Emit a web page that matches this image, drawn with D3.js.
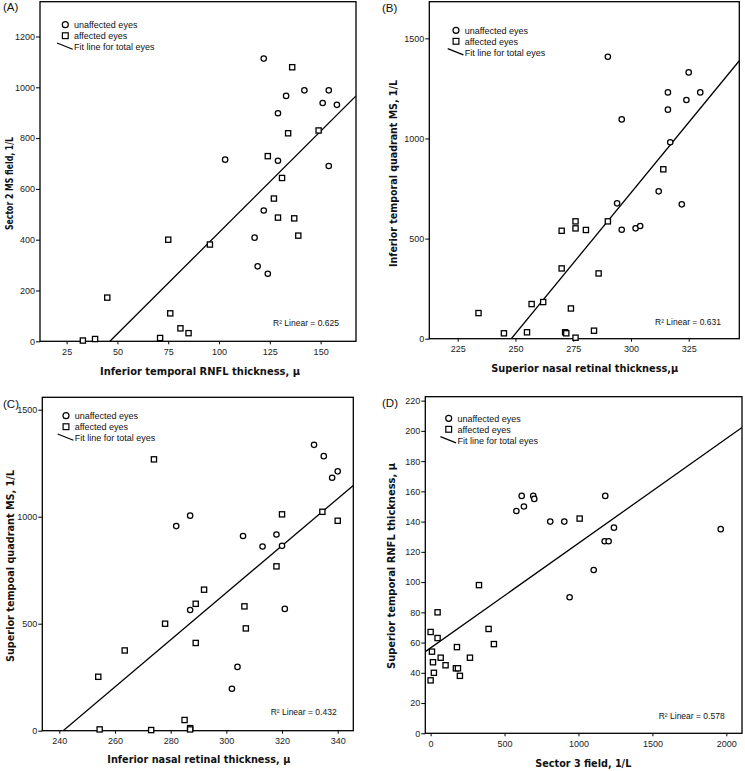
<!DOCTYPE html>
<html><head><meta charset="utf-8">
<script src="https://cdn.jsdelivr.net/npm/d3@7"></script>
<style>
html,body{margin:0;padding:0;background:#fff;}
svg{display:block;}
.tick text{font-family:"Liberation Sans",Arial,sans-serif;font-size:9px;fill:#222;}
.tick line{stroke:#000;stroke-width:1;}
.domain{display:none;}
</style></head>
<body>
<svg id="chart" width="745" height="771"></svg>
<script>
// ---------- DATA ----------
// Panel A
const aUnaffected = [[122,1113],[142,988],[154,988],[133,966],[151,938],[158,931],[129,898],[103,715],[129,711],[154,690],[122,515],[117.5,408],[119,295],[124,266]];
const aAffected = [[136,1079],[149,830],[134,819],[124,729],[131,643],[127,562],[129,487],[137,484],[139,416],[75,400],[95.5,381],[45,172],[76,110],[81,51],[85,32],[71,13],[39,9],[33,3]];
const aFit = [[46.3,0],[167.4,966]];
const aXTicks = [25,50,75,100,125,150];
const aYTicks = [0,200,400,600,800,1000,1200];
// Panel B
const bUnaffected = [[290,1408],[325,1330],[316,1230],[330,1230],[324,1192],[316,1144],[296,1095],[317,981],[312,736],[322,671],[294,676],[296,544],[302,551],[304,563]];
const bAffected = [[314,846],[290,586],[276,586],[276,551],[280.5,543],[270,539],[270,351],[286,326],[257,173],[262,183],[274,151],[234,128],[245,27],[255,32],[271.5,32],[272,27],[284,40],[276,5]];
const bFit = [[248.2,0],[346.9,1388]];
const bXTicks = [225,250,275,300,325];
const bYTicks = [0,500,1000,1500];
// Panel C
const cUnaffected = [[331.5,1336],[335,1283],[340,1212],[338,1182],[287,1005],[282,956],[306,910],[318,917],[313,861],[320,864],[287,564],[321,569],[304,298],[302,196]];
const cAffected = [[274,1268],[334.5,1023],[320,1011],[340,981],[318,768],[292,659],[289,593],[306.5,581],[278,500],[307,478],[289,410],[263.5,375],[254,252],[285,50],[287,12],[287,6],[254.5,6],[273,3]];
const cFit = [[241.4,0],[345.6,1146]];
const cXTicks = [240,260,280,300,320,340];
const cYTicks = [0,500,1000,1500];
// Panel D
const dUnaffected = [[616,157],[694,157],[701,155],[631,150],[580,147],[1181,157],[809,140],[904,140],[1240,136],[1962,135],[1177,127],[1204,127],[1103,108],[940,90]];
const dAffected = [[1008,142],[327,98],[47,80],[392,69],[0,67],[47,63],[428,59],[178,57],[9,54],[68,50],[266,50],[16,47],[101,45],[171,43],[185,43],[22,40],[198,38],[0,35]];
const dFit = [[-36,54],[2106,202.2]];
const dXTicks = [0,500,1000,1500,2000];
const dYTicks = [0,20,40,60,80,100,120,140,160,180,200,220];

const legendLabels = ["unaffected eyes","affected eyes","Fit line for total eyes"];

const panels = [
  {tag:"(A)", unaff:aUnaffected, aff:aAffected, fit:aFit, xt:aXTicks, yt:aYTicks,
   r2:"R\u00B2 Linear = 0.625", xTitle:"Inferior temporal RNFL thickness, \u03BC", yTitle:"Sector 2 MS field, 1/L",
   box:[40,1.7,356,341.3], xd:[11.9,167.4], yd:[0,1337],
   tagPos:[3,11], leg:[65.3,24.7], r2Pos:[273,326],
   xT:{x:100,y:375,len:200}, yT:{x:12.5,y:183.5,len:93}},
  {tag:"(B)", unaff:bUnaffected, aff:bAffected, fit:bFit, xt:bXTicks, yt:bYTicks,
   r2:"R\u00B2 Linear = 0.631", xTitle:"Superior nasal retinal thickness,\u03BC", yTitle:"Inferior temporal quadrant MS, 1/L",
   box:[429.3,1.7,739.3,338.7], xd:[212.7,346.9], yd:[0,1683],
   tagPos:[382,11.7], leg:[456,30.3], r2Pos:[655,324.5],
   xT:{x:491.3,y:371.7,len:187}, yT:{x:397,y:173.5,len:187}},
  {tag:"(C)", unaff:cUnaffected, aff:cAffected, fit:cFit, xt:cXTicks, yt:cYTicks,
   r2:"R\u00B2 Linear = 0.432", xTitle:"Inferior nasal retinal thickness, \u03BC", yTitle:"Superior tempoal quadrant MS, 1/L",
   box:[42.3,397.3,353.3,730.7], xd:[233.9,345.6], yd:[0,1558],
   tagPos:[3,408], leg:[66,415.7], r2Pos:[270.7,714.5],
   xT:{x:107.3,y:762.7,len:183}, yT:{x:14,y:566,len:192}},
  {tag:"(D)", unaff:dUnaffected, aff:dAffected, fit:dFit, xt:dXTicks, yt:dYTicks,
   r2:"R\u00B2 Linear = 0.578", xTitle:"Sector 3 field, 1/L", yTitle:"Superior temporal RNFL thickness, \u03BC",
   box:[425.3,396.7,742,733.3], xd:[-36,2106], yd:[0,222.6],
   tagPos:[382,407], leg:[448.7,418.3], r2Pos:[658.7,718.5],
   xT:{x:535.3,y:767,len:96}, yT:{x:395,y:566,len:206}}
];

const svg = d3.select("#chart");
const sans = '"Liberation Sans",Arial,sans-serif';
const bold = '"DejaVu Sans",Verdana,sans-serif';

panels.forEach((p,i)=>{
  const [x0,y0,x1,y1] = p.box;
  const x = d3.scaleLinear().domain(p.xd).range([x0,x1]);
  const y = d3.scaleLinear().domain(p.yd).range([y1,y0]);
  const g = svg.append("g");

  const cid = "clip"+i;
  svg.append("clipPath").attr("id",cid).append("rect")
    .attr("x",x0).attr("y",y0).attr("width",x1-x0).attr("height",y1-y0);

  g.append("g").attr("transform",`translate(${x0},0)`)
    .call(d3.axisLeft(y).tickValues(p.yt).tickSize(4).tickPadding(1).tickFormat(d3.format("d")));
  g.append("g").attr("transform",`translate(0,${y1})`)
    .call(d3.axisBottom(x).tickValues(p.xt).tickSize(3).tickPadding(4).tickFormat(d3.format("d")));

  g.append("rect").attr("x",x0).attr("y",y0).attr("width",x1-x0).attr("height",y1-y0)
    .attr("fill","none").attr("stroke","#000").attr("stroke-width",1.3);

  g.append("line").attr("clip-path",`url(#${cid})`)
    .attr("x1",x(p.fit[0][0])).attr("y1",y(p.fit[0][1]))
    .attr("x2",x(p.fit[1][0])).attr("y2",y(p.fit[1][1]))
    .attr("stroke","#000").attr("stroke-width",1.3);

  g.selectAll("circle.u").data(p.unaff).join("circle").attr("class","u")
    .attr("cx",d=>x(d[0])).attr("cy",d=>y(d[1])).attr("r",2.7)
    .attr("fill","#fff").attr("stroke","#000").attr("stroke-width",1.25);
  g.selectAll("rect.a").data(p.aff).join("rect").attr("class","a")
    .attr("x",d=>x(d[0])-2.6).attr("y",d=>y(d[1])-2.6).attr("width",5.2).attr("height",5.2)
    .attr("fill","#fff").attr("stroke","#000").attr("stroke-width",1.3);

  const [lx,ly] = p.leg;
  g.append("circle").attr("cx",lx).attr("cy",ly).attr("r",3).attr("fill","none").attr("stroke","#000").attr("stroke-width",1.2);
  g.append("rect").attr("x",lx-2.9).attr("y",ly+11-2.9).attr("width",5.8).attr("height",5.8).attr("fill","none").attr("stroke","#000").attr("stroke-width",1.2);
  g.append("line").attr("x1",lx-8.3).attr("y1",ly+18.3).attr("x2",lx+7.4).attr("y2",ly+24.6).attr("stroke","#000").attr("stroke-width",1.2);
  legendLabels.forEach((t,k)=>{
    g.append("text").attr("x",lx+8.7).attr("y",ly+3.3+k*11).text(t)
      .attr("font-family",sans).attr("font-size",9).attr("fill","#111");
  });

  g.append("text").attr("x",p.r2Pos[0]).attr("y",p.r2Pos[1]).text(p.r2)
    .attr("font-family",sans).attr("font-size",8.5).attr("fill","#111");

  g.append("text").attr("x",p.tagPos[0]).attr("y",p.tagPos[1]).text(p.tag)
    .attr("font-family",sans).attr("font-size",11.5).attr("fill","#111");

  g.append("text").attr("x",p.xT.x).attr("y",p.xT.y).text(p.xTitle)
    .attr("font-family",bold).attr("font-weight","bold").attr("font-size",11)
    .attr("textLength",p.xT.len).attr("lengthAdjust","spacingAndGlyphs").attr("fill","#111");
  g.append("text").attr("transform",`translate(${p.yT.x},${p.yT.y}) rotate(-90)`)
    .attr("text-anchor","middle").text(p.yTitle)
    .attr("font-family",bold).attr("font-weight","bold").attr("font-size",11)
    .attr("textLength",p.yT.len).attr("lengthAdjust","spacingAndGlyphs").attr("fill","#111");
});
</script>
</body></html>
